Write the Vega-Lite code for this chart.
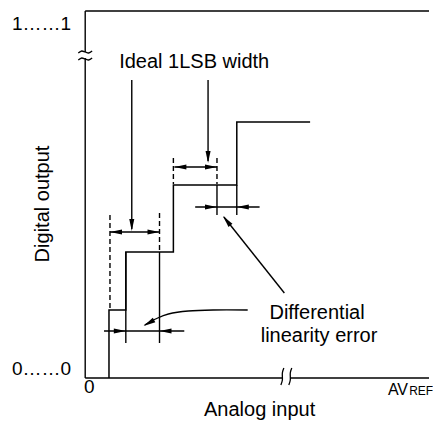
{
  "$schema": "https://vega.github.io/schema/vega-lite/v6.json",
  "width": 433,
  "height": 422,
  "autosize": {"type": "fit", "contains": "padding"},
  "padding": 0,
  "config": {"view": {"stroke": null}, "font": "Liberation Sans"},
  "datasets": {
    "solid": [
      {"x": 0, "y": 367, "x2": 0, "y2": 326},
      {"x": 0, "y": 320, "x2": 0, "y2": 0},
      {"x": 0, "y": 367, "x2": 347, "y2": 367},
      {"x": 0, "y": 0, "x2": 199, "y2": 0},
      {"x": 207, "y": 0, "x2": 347, "y2": 0},
      {"x": 41, "y": 126, "x2": 41, "y2": 35},
      {"x": 75, "y": 126, "x2": 75, "y2": 35},
      {"x": 133, "y": 193, "x2": 133, "y2": 163},
      {"x": 153, "y": 193, "x2": 153, "y2": 163},
      {"x": 25, "y": 146, "x2": 75, "y2": 146},
      {"x": 90, "y": 211, "x2": 133, "y2": 211},
      {"x": 111, "y": 171, "x2": 176, "y2": 171},
      {"x": 19, "y": 47, "x2": 100, "y2": 47},
      {"x": 47, "y": 298, "x2": 47, "y2": 149},
      {"x": 124, "y": 298, "x2": 124, "y2": 217},
      {"x": 201, "y": 85, "x2": 140, "y2": 161}
    ],
    "dashed": [
      {"x": 25, "y": 163, "x2": 25, "y2": 70},
      {"x": 75, "y": 165, "x2": 75, "y2": 128},
      {"x": 89, "y": 220, "x2": 89, "y2": 194},
      {"x": 133, "y": 220, "x2": 133, "y2": 194}
    ],
    "stair": [
      {"o": 1, "x": 24, "y": 0},
      {"o": 2, "x": 24, "y": 68},
      {"o": 3, "x": 41, "y": 68},
      {"o": 4, "x": 41, "y": 126},
      {"o": 5, "x": 89, "y": 126},
      {"o": 6, "x": 89, "y": 193},
      {"o": 7, "x": 153, "y": 193},
      {"o": 8, "x": 153, "y": 256},
      {"o": 9, "x": 227, "y": 256}
    ],
    "curves": [
      {"id": "c", "o": 1, "x": 164, "y": 68},
      {"id": "c", "o": 2, "x": 129, "y": 68},
      {"id": "c", "o": 3, "x": 104, "y": 67},
      {"id": "c", "o": 4, "x": 84, "y": 64},
      {"id": "c", "o": 5, "x": 71, "y": 59},
      {"id": "c", "o": 6, "x": 60, "y": 53},
      {"id": "t1", "o": 1, "x": -7, "y": 325},
      {"id": "t1", "o": 2, "x": -3.5, "y": 327},
      {"id": "t1", "o": 3, "x": 0, "y": 326},
      {"id": "t1", "o": 4, "x": 3.5, "y": 325},
      {"id": "t1", "o": 5, "x": 7, "y": 327},
      {"id": "t2", "o": 1, "x": -7, "y": 318},
      {"id": "t2", "o": 2, "x": -3.5, "y": 320},
      {"id": "t2", "o": 3, "x": 0, "y": 319},
      {"id": "t2", "o": 4, "x": 3.5, "y": 318},
      {"id": "t2", "o": 5, "x": 7, "y": 320},
      {"id": "b1", "o": 1, "x": 200.5, "y": 10},
      {"id": "b1", "o": 2, "x": 199, "y": 5},
      {"id": "b1", "o": 3, "x": 199, "y": -2},
      {"id": "b1", "o": 4, "x": 197.5, "y": -7},
      {"id": "b2", "o": 1, "x": 208.5, "y": 10},
      {"id": "b2", "o": 2, "x": 207, "y": 5},
      {"id": "b2", "o": 3, "x": 207, "y": -2},
      {"id": "b2", "o": 4, "x": 205.5, "y": -7}
    ],
    "heads": [
      {"x": 25, "y": 146, "a": 180},
      {"x": 75, "y": 146, "a": 0},
      {"x": 90, "y": 211, "a": 180},
      {"x": 133, "y": 211, "a": 0},
      {"x": 133, "y": 171, "a": 0},
      {"x": 153, "y": 171, "a": 180},
      {"x": 41, "y": 47, "a": 0},
      {"x": 75, "y": 47, "a": 180},
      {"x": 47, "y": 147, "a": 90},
      {"x": 124, "y": 215, "a": 90},
      {"x": 139, "y": 162, "a": 231},
      {"x": 59, "y": 52, "a": 150}
    ],
    "labels": [
      {"t": "1……1", "x": -44, "y": 348, "ang": 0, "fs": 19},
      {"t": "0……0", "x": -44, "y": 3, "ang": 0, "fs": 19},
      {"t": "0", "x": 4, "y": -15, "ang": 0, "fs": 19},
      {"t": "Analog input", "x": 176, "y": -38, "ang": 0, "fs": 20},
      {"t": "Digital output", "x": -36.5, "y": 174, "ang": 270, "fs": 20},
      {"t": "Ideal 1LSB width", "x": 110, "y": 310, "ang": 0, "fs": 20},
      {"t": "Differential", "x": 234, "y": 59, "ang": 0, "fs": 20},
      {"t": "linearity error", "x": 236, "y": 36, "ang": 0, "fs": 20}
    ],
    "avref": [
      {"t": "AV", "x": 305.5, "y": -17, "fs": 16},
      {"t": "REF", "x": 327, "y": -17, "fs": 12}
    ]
  },
  "layer": [
    {
      "data": {"name": "solid"},
      "mark": {"type": "rule", "color": "#000", "strokeWidth": 1.4},
      "encoding": {
        "x": {"field": "x", "type": "quantitative", "scale": {"domain": [-86, 347], "nice": false, "zero": false}, "axis": null},
        "y": {"field": "y", "type": "quantitative", "scale": {"domain": [-44, 378], "nice": false, "zero": false}, "axis": null},
        "x2": {"field": "x2"},
        "y2": {"field": "y2"}
      }
    },
    {
      "data": {"name": "dashed"},
      "mark": {"type": "rule", "color": "#000", "strokeWidth": 1.4, "strokeDash": [5, 3]},
      "encoding": {
        "x": {"field": "x", "type": "quantitative", "scale": {"domain": [-86, 347], "nice": false, "zero": false}, "axis": null},
        "y": {"field": "y", "type": "quantitative", "scale": {"domain": [-44, 378], "nice": false, "zero": false}, "axis": null},
        "x2": {"field": "x2"},
        "y2": {"field": "y2"}
      }
    },
    {
      "data": {"name": "stair"},
      "mark": {"type": "line", "color": "#000", "strokeWidth": 1.5, "strokeJoin": "miter"},
      "encoding": {
        "x": {"field": "x", "type": "quantitative", "scale": {"domain": [-86, 347], "nice": false, "zero": false}, "axis": null},
        "y": {"field": "y", "type": "quantitative", "scale": {"domain": [-44, 378], "nice": false, "zero": false}, "axis": null},
        "order": {"field": "o", "type": "quantitative"}
      }
    },
    {
      "data": {"name": "curves"},
      "mark": {"type": "line", "color": "#000", "strokeWidth": 1.3, "interpolate": "cardinal"},
      "encoding": {
        "x": {"field": "x", "type": "quantitative", "scale": {"domain": [-86, 347], "nice": false, "zero": false}, "axis": null},
        "y": {"field": "y", "type": "quantitative", "scale": {"domain": [-44, 378], "nice": false, "zero": false}, "axis": null},
        "detail": {"field": "id", "type": "nominal"},
        "order": {"field": "o", "type": "quantitative"}
      }
    },
    {
      "data": {"name": "heads"},
      "mark": {"type": "point", "filled": true, "color": "#000", "opacity": 1, "size": 144, "strokeWidth": 0, "shape": "M0,0L-2,-0.42L-2,0.42Z"},
      "encoding": {
        "x": {"field": "x", "type": "quantitative", "scale": {"domain": [-86, 347], "nice": false, "zero": false}, "axis": null},
        "y": {"field": "y", "type": "quantitative", "scale": {"domain": [-44, 378], "nice": false, "zero": false}, "axis": null},
        "angle": {"field": "a", "type": "quantitative", "scale": null}
      }
    },
    {
      "data": {"name": "labels"},
      "mark": {"type": "text", "color": "#000", "align": "center", "baseline": "alphabetic"},
      "encoding": {
        "x": {"field": "x", "type": "quantitative", "scale": {"domain": [-86, 347], "nice": false, "zero": false}, "axis": null},
        "y": {"field": "y", "type": "quantitative", "scale": {"domain": [-44, 378], "nice": false, "zero": false}, "axis": null},
        "text": {"field": "t"},
        "angle": {"field": "ang", "type": "quantitative", "scale": null},
        "size": {"field": "fs", "type": "quantitative", "scale": null}
      }
    },
    {
      "data": {"name": "avref"},
      "mark": {"type": "text", "color": "#000", "align": "left", "baseline": "alphabetic"},
      "encoding": {
        "x": {"field": "x", "type": "quantitative", "scale": {"domain": [-86, 347], "nice": false, "zero": false}, "axis": null},
        "y": {"field": "y", "type": "quantitative", "scale": {"domain": [-44, 378], "nice": false, "zero": false}, "axis": null},
        "text": {"field": "t"},
        "size": {"field": "fs", "type": "quantitative", "scale": null}
      }
    }
  ]
}
